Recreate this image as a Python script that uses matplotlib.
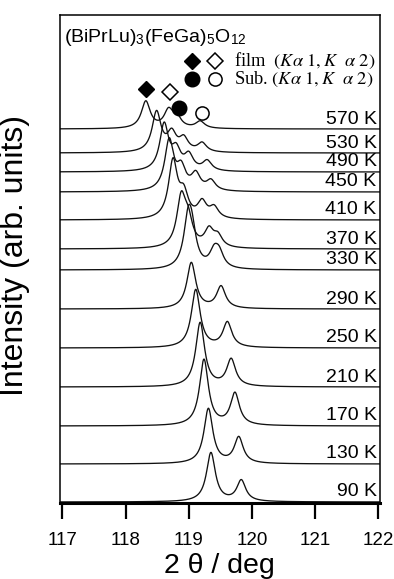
import numpy as np
import matplotlib
matplotlib.use('Agg')
import matplotlib.pyplot as plt

plt.rcParams['font.family'] = ['Liberation Sans', 'DejaVu Sans']
plt.rcParams['mathtext.fontset'] = 'stix'

# temperature of each scan and its vertical offset (arb. units)
temps = [570, 530, 490, 450, 410, 370, 330, 290, 250, 210, 170, 130, 90]
offsets = [374, 350, 331, 311, 283, 254, 233, 194, 155, 116, 77, 39, 1]

# fitted peak centres (2theta, deg) and peak heights for each scan
peak_pos = [
    [118.32, 118.68, 118.81, 119.18],
    [118.49, 118.73, 118.92, 119.21],
    [118.61, 118.80, 119.00, 119.29],
    [118.69, 118.88, 119.11, 119.35],
    [118.75, 118.92, 119.21, 119.40],
    [118.88, 118.99, 119.32, 119.46],
    [118.99, 119.05, 119.40, 119.48],
    [119.04, 119.51],
    [119.11, 119.61],
    [119.18, 119.67],
    [119.24, 119.73],
    [119.31, 119.79],
    [119.35, 119.83],
]
peak_amp = [
    [27, 17, 10, 7],
    [40, 18, 13, 9],
    [46, 19, 15, 10],
    [50, 21, 16, 10],
    [57, 23, 16, 11],
    [48, 24, 17, 11],
    [44, 28, 15, 14],
    [46, 22],
    [58, 25],
    [64, 27],
    [66, 32],
    [55, 26],
    [49, 21],
]
hwhm = 0.085

xticks = [117, 118, 119, 120, 121, 122]


def lorentz(x, x0, a, w):
    return a / (1 + ((x - x0) / w) ** 2)


tth = np.linspace(116.96, 122.02, 2000)

fig = plt.figure(figsize=(3.94, 5.79), dpi=100)
ax = fig.add_axes([60 / 394, 1 - 503 / 579, 320 / 394, 488 / 579])

for T, off, pos, amp in zip(temps, offsets, peak_pos, peak_amp):
    y = np.full_like(tth, float(off))
    for p, a in zip(pos, amp):
        y += lorentz(tth, p, a, hwhm)
    ax.plot(tth, y, color='#111111', lw=0.95)
    ax.text(121.97, off + 1.5, f'{T} K', ha='right', va='bottom', fontsize=14)

# markers above the 570 K peaks
top = offsets[0]
ax.plot(peak_pos[0][0], top + peak_amp[0][0] + 13, 'D', ms=8, color='k')
ax.plot(peak_pos[0][1] + 0.02, top + peak_amp[0][1] + 20, 'D', ms=8, mfc='white', mec='k', mew=1.1)
ax.plot(peak_pos[0][2] + 0.03, top + peak_amp[0][2] + 11, 'o', ms=10.5, color='k')
ax.plot(peak_pos[0][3] + 0.03, top + peak_amp[0][3] + 9, 'o', ms=9.5, mfc='white', mec='k', mew=1.1)

# legend block
ax.plot([0.413], [0.905], 'D', ms=8, color='k', transform=ax.transAxes)
ax.plot([0.485], [0.905], 'D', ms=8, mfc='white', mec='k', mew=1.1, transform=ax.transAxes)
ax.plot([0.413], [0.868], 'o', ms=10.5, color='k', transform=ax.transAxes)
ax.plot([0.485], [0.868], 'o', ms=9.5, mfc='white', mec='k', mew=1.1, transform=ax.transAxes)
ax.text(0.545, 0.905, r'film  $(K\alpha\ 1, K\ \ \alpha\ 2)$', transform=ax.transAxes,
        va='center', ha='left', fontsize=13.2, family='Liberation Serif')
ax.text(0.545, 0.868, r'Sub. $(K\alpha\ 1, K\ \ \alpha\ 2)$', transform=ax.transAxes,
        va='center', ha='left', fontsize=13.2, family='Liberation Serif')

ax.text(0.012, 0.976,
        r'(BiPrLu)$_\mathregular{3}$(FeGa)$_\mathregular{5}$O$_\mathregular{12}$',
        transform=ax.transAxes, ha='left', va='top', fontsize=14)

ax.set_xlim(116.963, 122.024)
ax.set_ylim(0, 488)
ax.set_xticks(xticks)
ax.set_yticks([])
ax.tick_params(axis='x', direction='out', length=11.5, width=1.6, pad=9.5, labelsize=13.5)
for side in ['left', 'right', 'top']:
    ax.spines[side].set_linewidth(1.1)
ax.spines['bottom'].set_linewidth(2.2)

ax.set_xlabel('2 θ / deg', fontsize=20.5)
ax.xaxis.set_label_coords(0.497, -0.103)
ax.set_ylabel('Intensity (arb. units)', fontsize=23)
ax.yaxis.set_label_coords(-0.093, 0.508)

fig.savefig('out.png', dpi=100)
